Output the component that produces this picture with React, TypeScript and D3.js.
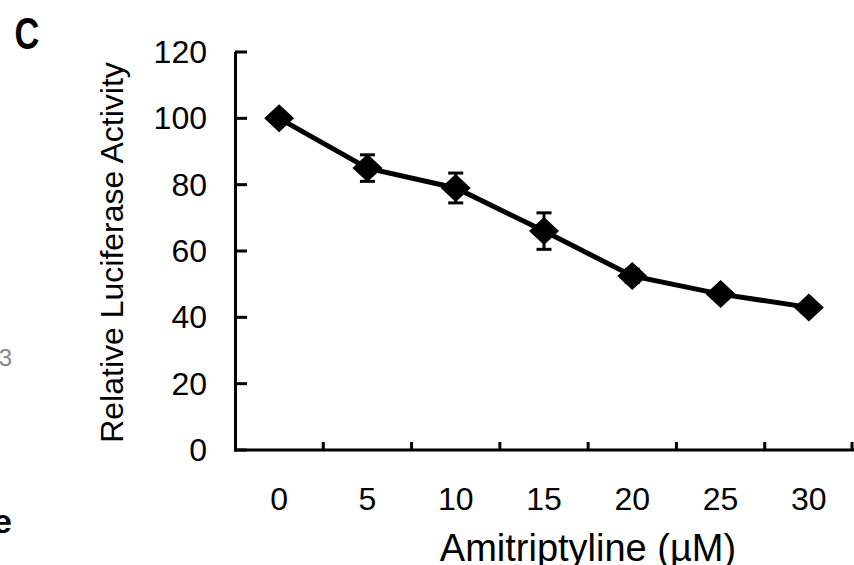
import React, { useEffect } from "react";
import * as d3 from "d3";

const categories = ["0", "5", "10", "15", "20", "25", "30"];
const values = [100, 85, 79, 66, 52.5, 47, 43];
const errors = [1.5, 4, 4.5, 5.5, 2, 1.5, 1];
const yTicks = [0, 20, 40, 60, 80, 100, 120];
const xTitle = "Amitriptyline (\u00B5M)";
const yTitle = "Relative Luciferase Activity";
const panelLabel = "C";

const W = 854;
const H = 565;
const FONT = "'Liberation Sans', Arial, sans-serif";

export default function App() {
  useEffect(() => {
    document.body.style.margin = "0";
    document.body.style.overflow = "hidden";
  }, []);

  const x = d3.scaleBand<string>().domain(categories).range([235, 853]).padding(0);
  const y = d3.scaleLinear().domain([0, 120]).range([450, 52]);
  const cx = (c: string) => (x(c) ?? 0) + x.bandwidth() / 2;

  const data = categories.map((c, i) => ({ c, v: values[i], e: errors[i] }));
  const line = d3
    .line<{ c: string; v: number }>()
    .x((d) => cx(d.c))
    .y((d) => y(d.v));

  const dw = 15;
  const dh = 14;
  const cap = 7.5;

  const xBoundaries = categories.map((c) => (x(c) ?? 0) + x.bandwidth());

  return (
    <svg
      width={W}
      height={H}
      viewBox={`0 0 ${W} ${H}`}
      style={{ position: "absolute", left: 0, top: 0, background: "#fff" }}
    >
      <rect x={0} y={0} width={W} height={H} fill="#fff" />

      {/* panel label */}
      <text
        transform="translate(27,49) scale(0.78,1)"
        textAnchor="middle"
        fontFamily={FONT}
        fontWeight="bold"
        fontSize={44}
        fill="#000"
      >
        {panelLabel}
      </text>

      {/* cropped fragments from neighbouring panels */}
      <text x={12} y={366} textAnchor="end" fontFamily={FONT} fontSize={24} fill="#888">
        3
      </text>
      <text x={12} y={533} textAnchor="end" fontFamily={FONT} fontWeight="bold" fontSize={34} fill="#000">
        e
      </text>

      {/* y axis */}
      <line x1={235.5} y1={y(120)} x2={235.5} y2={451.5} stroke="#000" strokeWidth={3} />
      {yTicks.map((t) => (
        <g key={"yt" + t}>
          <line x1={235} x2={247} y1={y(t)} y2={y(t)} stroke="#000" strokeWidth={3} />
          <text
            x={207}
            y={y(t)}
            textAnchor="end"
            dominantBaseline="central"
            fontFamily={FONT}
            fontSize={32}
            fill="#000"
          >
            {t}
          </text>
        </g>
      ))}

      {/* x axis */}
      <line x1={234} y1={450} x2={854} y2={450} stroke="#000" strokeWidth={3} />
      {xBoundaries.map((bx, i) => (
        <line key={"xt" + i} x1={Math.min(bx, 852)} x2={Math.min(bx, 852)} y1={450} y2={442} stroke="#000" strokeWidth={3} />
      ))}
      {categories.map((c) => (
        <text
          key={"xl" + c}
          x={cx(c)}
          y={499}
          textAnchor="middle"
          dominantBaseline="central"
          fontFamily={FONT}
          fontSize={32}
          fill="#000"
        >
          {c}
        </text>
      ))}

      {/* titles */}
      <text x={588} y={561} textAnchor="middle" fontFamily={FONT} fontSize={38} fill="#000">
        {xTitle}
      </text>
      <text
        transform={`translate(123,${(63 + 442) / 2}) rotate(-90)`}
        textAnchor="middle"
        fontFamily={FONT}
        fontSize={32}
        fill="#000"
      >
        {yTitle}
      </text>

      {/* line */}
      <path d={line(data) ?? ""} fill="none" stroke="#000" strokeWidth={5} strokeLinejoin="miter" />

      {/* error bars */}
      {data.map((d) => {
        const px = cx(d.c);
        const yt = y(d.v + d.e);
        const yb = y(d.v - d.e);
        return (
          <g key={"eb" + d.c} stroke="#000" strokeWidth={3}>
            <line x1={px} x2={px} y1={yt} y2={yb} />
            <line x1={px - cap} x2={px + cap} y1={yt} y2={yt} />
            <line x1={px - cap} x2={px + cap} y1={yb} y2={yb} />
          </g>
        );
      })}

      {/* markers */}
      {data.map((d) => {
        const px = cx(d.c);
        const py = y(d.v);
        return (
          <path
            key={"mk" + d.c}
            d={`M${px},${py - dh}L${px + dw},${py}L${px},${py + dh}L${px - dw},${py}Z`}
            fill="#000"
          />
        );
      })}
    </svg>
  );
}
